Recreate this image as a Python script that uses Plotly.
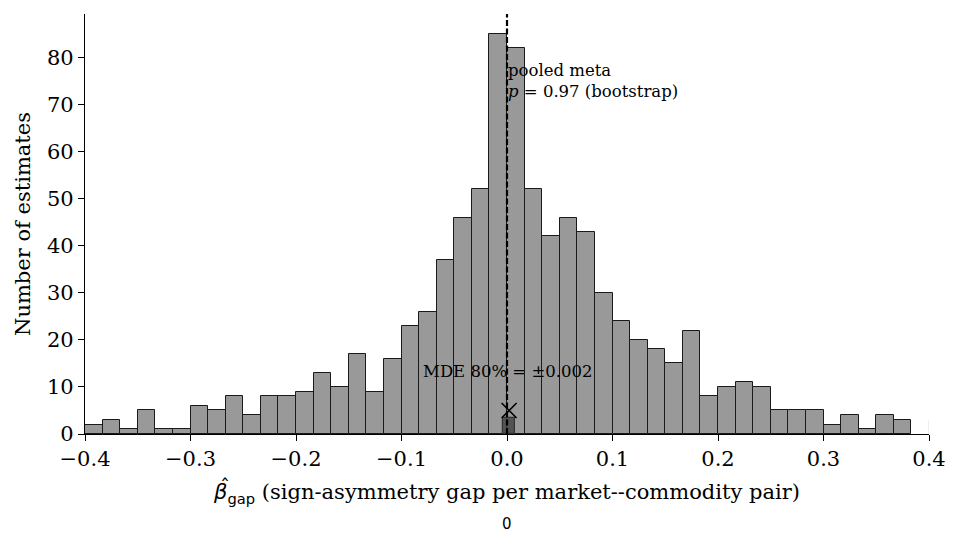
import numpy as np
import plotly.graph_objects as go

# ---- data ----
bin_start = -0.4
bin_width = 1 / 60
counts = [2, 3, 1, 5, 1, 1, 6, 5, 8, 4, 8, 8, 9, 13, 10, 17, 9, 16, 23, 26,
          37, 46, 52, 85, 82, 52, 42, 46, 43, 30, 24, 20, 18, 15, 22, 8, 10,
          11, 10, 5, 5, 5, 2, 4, 1, 4, 3]
pooled_x = [0.0]
mde_x = [0.002]
mde_y = [5]
mde_box_height = [3.4]
mde_box_width = 0.012
faint_edge_x = [0.4, 0.4]
faint_edge_y = [0, 3]
x_ticks = [-0.4, -0.3, -0.2, -0.1, 0.0, 0.1, 0.2, 0.3, 0.4]
x_tick_labels = ["−0.4", "−0.3", "−0.2", "−0.1", "0.0", "0.1", "0.2", "0.3", "0.4"]
y_ticks = [0, 10, 20, 30, 40, 50, 60, 70, 80]

centers = bin_start + bin_width * (np.arange(len(counts)) + 0.5)

SERIF = "DejaVu Serif"
SANS = "DejaVu Sans"
fig = go.Figure()
fig.add_trace(go.Bar(
    x=centers, y=counts, width=bin_width,
    marker=dict(color="#999999", line=dict(color="#1a1a1a", width=1)),
    hoverinfo="x+y", showlegend=False,
))
fig.add_trace(go.Bar(
    x=mde_x, y=mde_box_height, width=mde_box_width,
    marker=dict(color="rgba(70,70,70,0.85)", line=dict(color="#333333", width=1.2)),
    showlegend=False,
))
fig.add_trace(go.Scatter(
    x=faint_edge_x, y=faint_edge_y, mode="lines",
    line=dict(color="#dddddd", width=1), showlegend=False, hoverinfo="skip",
    cliponaxis=False,
))
fig.add_trace(go.Scatter(
    x=mde_x, y=mde_y, mode="markers",
    marker=dict(symbol="x-thin-open", size=15, color="black",
                line=dict(color="black", width=1.6)),
    showlegend=False,
))
fig.add_vline(x=pooled_x[0], line=dict(color="black", width=2.2, dash="6px,2.5px"))

fig.add_annotation(
    x=pooled_x[0], y=75, xref="x", yref="y",
    text="pooled meta<br><i>p</i> = 0.97 (bootstrap)",
    showarrow=False, xanchor="left", yanchor="middle", align="left",
    font=dict(family=SERIF, size=16.5, color="black"), borderpad=0,
)
fig.add_annotation(
    x=pooled_x[0], y=13.3, xref="x", yref="y",
    text="MDE 80% = ±0.002",
    showarrow=False, xanchor="center", yanchor="middle",
    font=dict(family=SERIF, size=16.5, color="black"),
)
fig.add_annotation(
    x=pooled_x[0], y=-0.215, xref="x", yref="paper",
    text="0", showarrow=False, xanchor="center", yanchor="middle",
    font=dict(family=SANS, size=15, color="black"),
)
# hat over beta in the x-axis title
fig.add_annotation(
    x=0.166, y=-0.124, xref="paper", yref="paper",
    text="ˆ", showarrow=False, xanchor="center", yanchor="middle",
    font=dict(family=SANS, size=20, color="black"),
)

fig.update_layout(
    width=953, height=543,
    margin=dict(l=77, r=32, t=6, b=117),
    paper_bgcolor="white", plot_bgcolor="white",
    bargap=0, barmode="overlay",
    font=dict(family=SERIF, size=21, color="black"),
)
fig.update_xaxes(
    range=[-0.4, 0.4], tickvals=x_ticks, ticktext=x_tick_labels,
    showgrid=False, zeroline=False, showline=True, linecolor="black", linewidth=1.2,
    ticks="outside", ticklen=6, tickwidth=1.2, tickcolor="black",
    tickfont=dict(family=SERIF, size=21), automargin=False,
    title=dict(
        text="<span style='font-family:DejaVu Sans'><i>β</i></span><sub><span style='font-family:DejaVu Sans'>gap</span></sub> (sign-asymmetry gap per market--commodity pair)",
        font=dict(family=SERIF, size=21), standoff=14,
    ),
)
fig.update_yaxes(
    range=[0, 89.3], tickvals=y_ticks,
    showgrid=False, zeroline=False, showline=True, linecolor="black", linewidth=1.2,
    ticks="outside", ticklen=6, tickwidth=1.2, tickcolor="black",
    tickfont=dict(family=SERIF, size=21), automargin=False,
    title=dict(text="Number of estimates", font=dict(family=SERIF, size=21), standoff=10),
)

fig.write_html("out.html")
